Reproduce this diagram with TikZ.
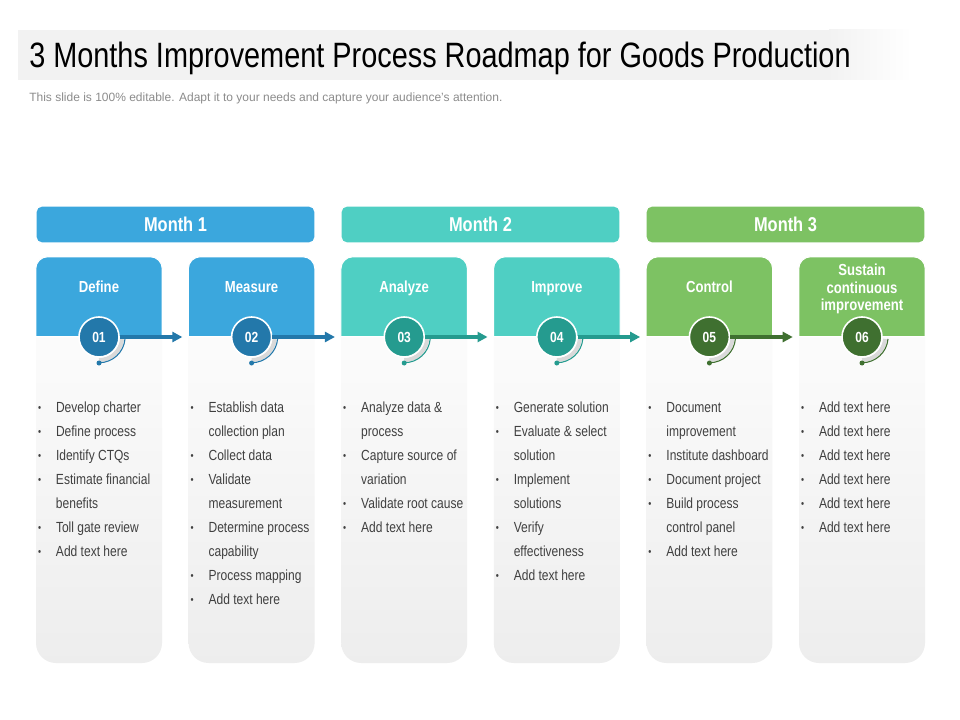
\documentclass[tikz,border=0pt]{standalone}
\usepackage{fontspec}
\setmainfont{Liberation Sans}
\newfontfamily\narrow[FakeStretch=0.82]{Liberation Sans}
\usetikzlibrary{arrows.meta,positioning,calc}
\definecolor{monthblue}{HTML}{3BA7DD}
\definecolor{darkblue}{HTML}{2378AA}
\definecolor{monthteal}{HTML}{4FCFC3}
\definecolor{darkteal}{HTML}{259B8F}
\definecolor{monthgreen}{HTML}{7DC263}
\definecolor{darkgreen}{HTML}{3F7030}
\definecolor{bodygrey}{HTML}{404040}
\definecolor{notegrey}{HTML}{8C8C8C}
\newcommand{\bitem}{\makebox[13.5pt][l]{\raisebox{0.6pt}{\fontsize{8}{8}\selectfont\textbullet}}}
\newcommand{\bcont}{\hspace*{13.5pt}}
\tikzset{
  monthbar/.style = {rounded corners=4pt, minimum width=209pt, minimum height=27.5pt, inner sep=0pt,
                     draw=white, line width=0.8pt, text=white, font=\narrow\bfseries\fontsize{15}{18}\selectfont},
  panel/.style    = {rounded corners=15pt, minimum width=94.5pt, minimum height=304.5pt, inner sep=0pt,
                     top color=white, bottom color=black!7},
  stagelbl/.style = {text=white, align=center, inner sep=0pt, font=\narrow\bfseries\fontsize{12}{13}\selectfont},
  badge/.style    = {circle, minimum size=30pt, inner sep=0pt, draw=white, line width=1.2pt, text=white,
                     font=\narrow\bfseries\fontsize{11}{13}\selectfont},
  flow/.style     = {-{Triangle[length=7.5pt, width=7.5pt]}, line width=3pt},
  items/.style    = {anchor=north west, align=left, inner sep=0pt, text=bodygrey,
                     font=\narrow\fontsize{11}{18}\selectfont},
}

\begin{document}
\begin{tikzpicture}[x=0.75pt, y=-0.75pt]
  \useasboundingbox (0,0) rectangle (960,720);
  \fill[white] (0,0) rectangle (960,720);
  % title band
  \fill[black!5] (18,30) rectangle (830,80);
  \shade[left color=black!5, right color=white] (829,30) rectangle (912,80);
  \node[anchor=base west, inner sep=0pt, font=\narrow\fontsize{26.4}{30}\selectfont] (title) at (29,68)
    {3 Months Improvement Process Roadmap for Goods Production};
  \node[anchor=base west, inner sep=0pt, text=notegrey, font=\fontsize{9}{11}\selectfont] (note) at (29,102)
    {This slide is 100\% editable. Adapt it to your needs and capture your audience's attention.};
  % month bars
  \node[monthbar, fill=monthblue]  (m1) at (175.5,224.5) {Month 1};
  \node[monthbar, fill=monthteal]  (m2) at (480.5,224.5) {Month 2};
  \node[monthbar, fill=monthgreen] (m3) at (785.5,224.5) {Month 3};
  % stage columns
  \foreach \i/\xc/\col/\dk in {1/99/monthblue/darkblue, 2/251.6/monthblue/darkblue,
      3/404.2/monthteal/darkteal, 4/556.8/monthteal/darkteal,
      5/709.4/monthgreen/darkgreen, 6/862/monthgreen/darkgreen} {
    \node[panel] (p\i) at (\xc,460) {};
    \filldraw[fill=\col, draw=white, line width=0.8pt, rounded corners=9pt]
      ($(p\i.north west)+(0,80)$) -- (p\i.north west) -- (p\i.north east) [sharp corners]
      -- ($(p\i.north east)+(0,80)$) -- cycle;
    \draw[black!15, line width=3pt] ($(\xc,337)+(23,2)$) arc[start angle=5, end angle=90, radius=23];
    \draw[\dk, line width=0.8pt] ($(\xc,337)+(26,2)$) arc[start angle=5, end angle=90, radius=26];
    \fill[\dk] (\xc,363) circle[radius=2.5];
    \node[badge, fill=\dk] (c\i) at (\xc,337) {0\i};
  }
  % stage names
  \node[stagelbl, anchor=base] (s1) at (99,292.5)    {Define};
  \node[stagelbl, anchor=base] (s2) at (251.6,292.5) {Measure};
  \node[stagelbl, anchor=base] (s3) at (404.2,292.5) {Analyze};
  \node[stagelbl, anchor=base] (s4) at (556.8,292.5) {Improve};
  \node[stagelbl, anchor=base] (s5) at (709.4,292.5) {Control};
  \node[stagelbl] (s6) at (862,289) {Sustain\\continuous\\improvement};
  % arrows between stages
  \foreach \a/\b/\dk in {1/2/darkblue, 2/3/darkblue, 3/4/darkteal, 4/5/darkteal, 5/6/darkgreen}
    \draw[flow, \dk] (c\a.east) -- ([xshift=-4.5pt]p\b.west |- c\a.center);
  % bullet lists
  \node[items] (l1) at ($(p1.north west)+(2,145)$)
    {\bitem Develop charter\\ \bitem Define process\\ \bitem Identify CTQs\\ \bitem Estimate financial\\
     \bcont benefits\\ \bitem Toll gate review\\ \bitem Add text here};
  \node[items] (l2) at ($(p2.north west)+(2,145)$)
    {\bitem Establish data\\ \bcont collection plan\\ \bitem Collect data\\ \bitem Validate\\ \bcont measurement\\
     \bitem Determine process\\ \bcont capability\\ \bitem Process mapping\\ \bitem Add text here};
  \node[items] (l3) at ($(p3.north west)+(2,145)$)
    {\bitem Analyze data \&\\ \bcont process\\ \bitem Capture source of\\ \bcont variation\\
     \bitem Validate root cause\\ \bitem Add text here};
  \node[items] (l4) at ($(p4.north west)+(2,145)$)
    {\bitem Generate solution\\ \bitem Evaluate \& select\\ \bcont solution\\ \bitem Implement\\ \bcont solutions\\
     \bitem Verify\\ \bcont effectiveness\\ \bitem Add text here};
  \node[items] (l5) at ($(p5.north west)+(2,145)$)
    {\bitem Document\\ \bcont improvement\\ \bitem Institute dashboard\\ \bitem Document project\\
     \bitem Build process\\ \bcont control panel\\ \bitem Add text here};
  \node[items] (l6) at ($(p6.north west)+(2,145)$)
    {\bitem Add text here\\ \bitem Add text here\\ \bitem Add text here\\ \bitem Add text here\\
     \bitem Add text here\\ \bitem Add text here};
\end{tikzpicture}
\end{document}
